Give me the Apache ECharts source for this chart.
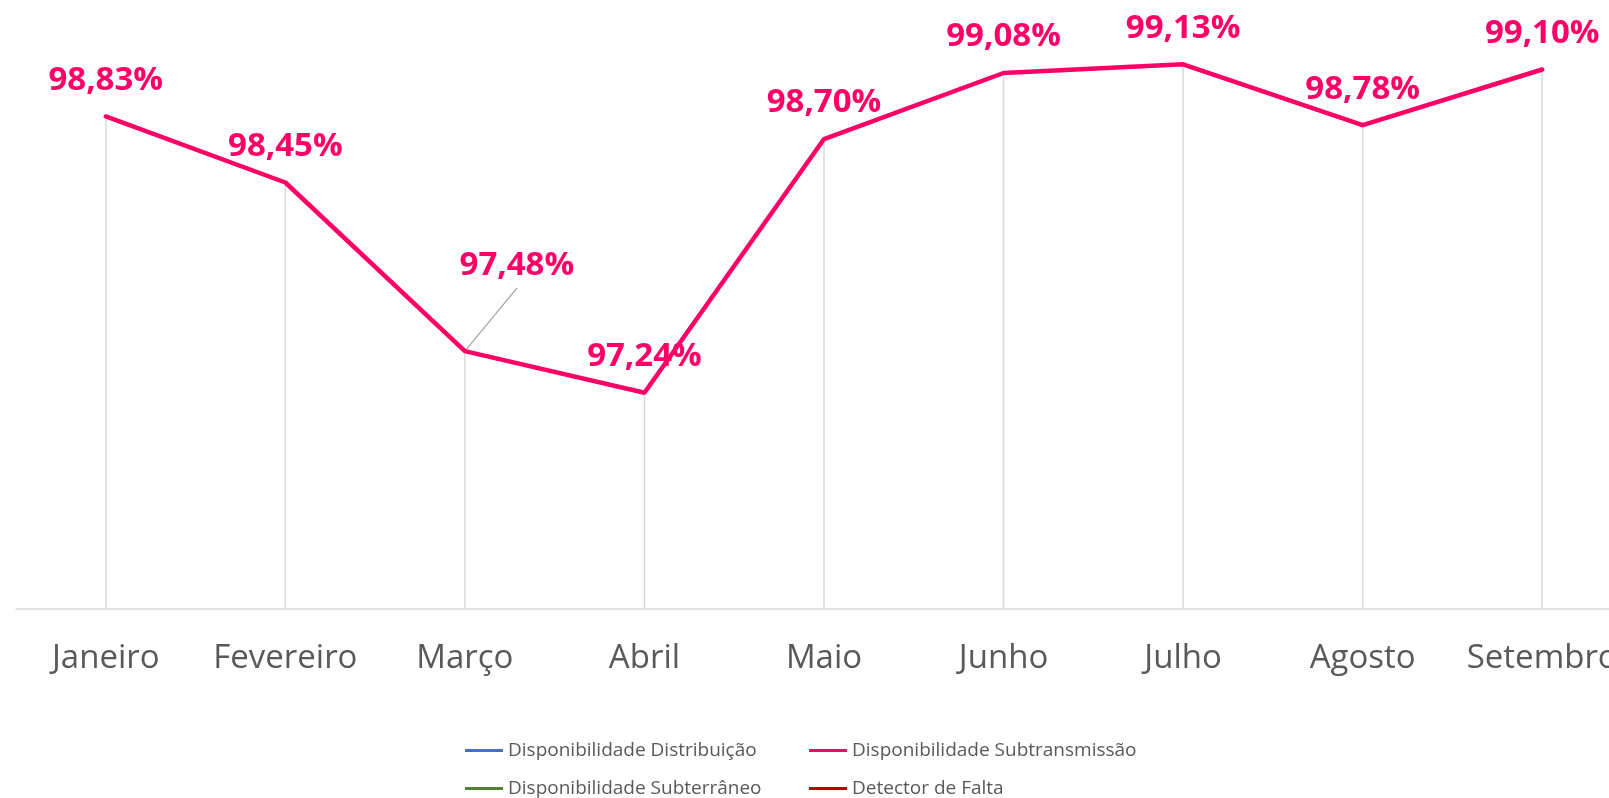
<!DOCTYPE html>
<html>
<head>
<meta charset="utf-8">
<title>Disponibilidade</title>
<script src="https://cdn.jsdelivr.net/npm/echarts@6/dist/echarts.min.js"></script>
<style>
  html, body { margin: 0; padding: 0; background: #fff; overflow: hidden; }
  /* o gráfico original passa da borda direita, por isso o div é mais largo */
  #map { width: 1632px; height: 798px; }
</style>
</head>
<body>
<div id="map"></div>
<script>
  // dados do gráfico
  var months = ['Janeiro', 'Fevereiro', 'Março', 'Abril', 'Maio', 'Junho', 'Julho', 'Agosto', 'Setembro']
  var subtransmissao = [98.83, 98.45, 97.48, 97.24, 98.70, 99.08, 99.13, 98.78, 99.10]
  var seriesNames = ['Disponibilidade Distribuição', 'Disponibilidade Subtransmissão', 'Disponibilidade Subterrâneo', 'Detector de Falta']
  var seriesColors = ['#4472c4', '#ff0066', '#548235', '#c00000']
  var yMin = 96
  var yMax = 99.5

  var font = '"Open Sans", "Noto Sans", sans-serif'

  // rótulo deslocado (Março) e sua linha de chamada
  var movedIndex = 2
  var movedLabel = [52, -49]
  var leaderEnd = [52, -63]

  function fmt (v) {
    return v.toFixed(2).replace('.', ',') + '%'
  }

  var legendBase = {
    orient: 'vertical',
    top: 741,
    padding: 0,
    itemGap: 19,
    itemWidth: 38,
    itemHeight: 3,
    icon: 'rect',
    textStyle: { color: '#595959', fontSize: 19, lineHeight: 19, fontFamily: font }
  }

  var myChart = echarts.init(document.getElementById('map'))
  myChart.setOption({
    animation: false,
    backgroundColor: '#fff',
    grid: {
      top: 0,
      left: 16,
      right: 0,
      height: 608.3
    },
    legend: [
      Object.assign({}, legendBase, { left: 465, data: [seriesNames[0], seriesNames[2]] }),
      Object.assign({}, legendBase, { left: 809, data: [seriesNames[1], seriesNames[3]] })
    ],
    xAxis: {
      type: 'category',
      boundaryGap: true,
      data: months,
      axisTick: { show: false },
      splitLine: { show: false },
      axisLine: { lineStyle: { color: '#d9d9d9', width: 1.5 } },
      axisLabel: {
        color: '#595959',
        fontSize: 33,
        lineHeight: 33,
        fontFamily: font,
        margin: 34,
        interval: 0
      }
    },
    yAxis: {
      type: 'value',
      show: false,
      min: yMin,
      max: yMax,
      splitLine: { show: false }
    },
    series: [
      {
        name: seriesNames[0],
        type: 'line',
        color: seriesColors[0],
        data: []
      },
      {
        // linhas de queda até o eixo
        name: 'drop',
        type: 'bar',
        barWidth: 1.5,
        silent: true,
        itemStyle: { color: '#d9d9d9' },
        z: 1,
        data: subtransmissao
      },
      {
        name: seriesNames[1],
        type: 'line',
        color: seriesColors[1],
        z: 3,
        symbol: 'circle',
        symbolSize: 1,
        showSymbol: true,
        itemStyle: { color: seriesColors[1] },
        lineStyle: { width: 4.5, color: seriesColors[1], cap: 'round' },
        label: {
          show: true,
          position: 'top',
          distance: 19,
          color: seriesColors[1],
          fontSize: 33,
          fontWeight: 'bold',
          fontFamily: font,
          formatter: function (p) { return fmt(p.value) }
        },
        labelLayout: function (p) {
          if (p.dataIndex !== movedIndex) return {}
          return { dx: movedLabel[0], dy: movedLabel[1] }
        },
        data: subtransmissao
      },
      {
        name: seriesNames[2],
        type: 'line',
        color: seriesColors[2],
        data: []
      },
      {
        name: seriesNames[3],
        type: 'line',
        color: seriesColors[3],
        data: []
      }
    ]
  })

  // linha de chamada a partir do ponto de Março
  var anchor = myChart.convertToPixel({ gridIndex: 0 }, [months[movedIndex], subtransmissao[movedIndex]])
  myChart.setOption({
    graphic: [{
      type: 'line',
      z: 2,
      silent: true,
      shape: {
        x1: anchor[0],
        y1: anchor[1],
        x2: anchor[0] + leaderEnd[0],
        y2: anchor[1] + leaderEnd[1]
      },
      style: { stroke: '#a6a6a6', lineWidth: 1.3 }
    }]
  })
</script>
</body>
</html>
